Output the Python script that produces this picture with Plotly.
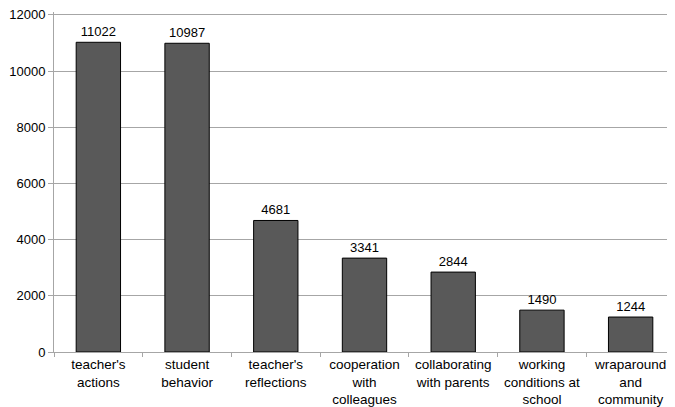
import plotly.graph_objects as go

categories = ["teacher's<br>actions", "student<br>behavior", "teacher's<br>reflections",
              "cooperation<br>with<br>colleagues", "collaborating<br>with parents",
              "working<br>conditions at<br>school", "wraparound<br>and<br>community"]
values = [11022, 10987, 4681, 3341, 2844, 1490, 1244]
y_ticks = [0, 2000, 4000, 6000, 8000, 10000, 12000]
y_tick_labels = [str(v) for v in y_ticks]

fig = go.Figure(go.Bar(
    x=categories, y=values, width=0.5,
    marker=dict(color="#595959", line=dict(color="#000000", width=1)),
    text=[str(v) for v in values], textposition="outside",
    textfont=dict(family="Liberation Sans, Arial", size=13, color="#000000"),
    cliponaxis=False,
))

# page body has an 8px margin, so the figure is sized to fit the 675x407 window
fig.update_layout(
    width=667, height=399,
    margin=dict(l=46, r=0, t=4, b=55, autoexpand=False),
    paper_bgcolor="white", plot_bgcolor="white",
    font=dict(family="Liberation Sans, Arial", size=13, color="#000000"),
    showlegend=False,
)
fig.update_yaxes(range=[0, 12100], tickvals=y_ticks, ticktext=y_tick_labels,
                 showgrid=True, gridcolor="#a6a6a6", gridwidth=1,
                 showline=True, linecolor="#a6a6a6", linewidth=1, ticks="outside", ticklen=5,
                 tickcolor="#a6a6a6", zeroline=False, tickfont=dict(size=13),
                 ticklabeloverflow="allow")
fig.update_xaxes(showline=True, linecolor="#a6a6a6", linewidth=1, ticks="outside", ticklen=4,
                 tickcolor="#a6a6a6", tickson="boundaries", tickfont=dict(size=13.5), range=[-0.5, 6.5],
                 ticklabeloverflow="allow")

fig.write_html("out.html")
